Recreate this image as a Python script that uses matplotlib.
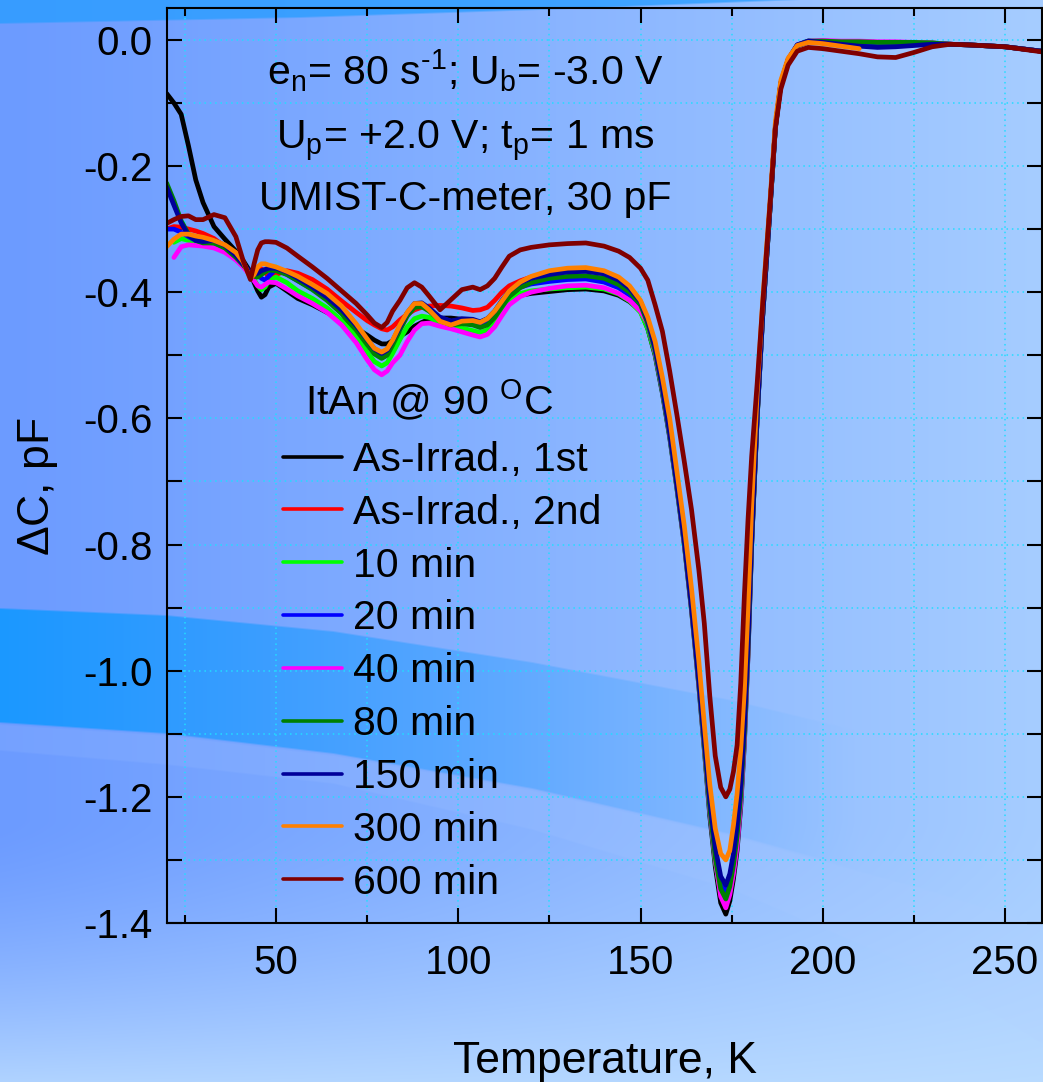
import numpy as np
import matplotlib
matplotlib.use("Agg")
import matplotlib.pyplot as plt
from matplotlib.ticker import MultipleLocator, FormatStrFormatter

plt.rcParams['font.family'] = ['Liberation Sans', 'DejaVu Sans']
plt.rcParams['mathtext.fontset'] = 'custom'
plt.rcParams['mathtext.rm'] = 'Liberation Sans'
plt.rcParams['mathtext.it'] = 'Liberation Sans'
plt.rcParams['mathtext.default'] = 'regular'
plt.rcParams['axes.unicode_minus'] = False

nan = np.nan

# temperature grids (K)
T_low = [20, 22, 24, 26, 28, 30, 33, 36, 39, 41, 43, 44, 45, 46, 47, 48, 50, 53, 56, 60,
         64, 68, 72, 75, 77, 79, 80.5, 82, 84, 86, 88, 90, 92, 95, 98, 101, 104, 106, 108, 110,
         112, 114, 117, 120, 125, 130, 135, 140, 144, 147, 150]
T_dip = [152, 154, 156, 158, 160, 162, 164, 166, 167.5, 169, 170.5, 172, 173.4, 174.5, 175.5,
         176.5, 177.5, 178.5, 179.5, 180.5, 182, 183.5, 185.5, 187, 188.5, 190.5, 193, 196,
         200, 205, 210, 215, 220, 225, 230, 235, 240, 250, 260]

# delta C (pF), one list per anneal step
irr1_low = [-0.085, -0.100, -0.118, -0.168, -0.222, -0.258, -0.296, -0.316, -0.335, -0.350, -0.368,
            -0.385, -0.398, -0.408, -0.404, -0.392, -0.386, -0.398, -0.410, -0.420, -0.432,
            -0.445, -0.457, -0.468, -0.476, -0.482, -0.482, -0.477, -0.470, -0.463, -0.454,
            -0.448, -0.443, -0.441, -0.441, -0.443, -0.446, -0.448, -0.442, -0.432, -0.420,
            -0.410, -0.405, -0.402, -0.399, -0.396, -0.395, -0.398, -0.405, -0.415, -0.430]
irr1_dip = [-0.458, -0.500, -0.560, -0.630, -0.712, -0.800, -0.905, -1.025, -1.125, -1.230, -1.310,
            -1.368, -1.386, -1.365, -1.330, -1.285, -1.215, -1.115, -0.975, -0.800, -0.600,
            -0.440, -0.270, -0.140, -0.070, -0.033, -0.010, -0.003, -0.002, -0.003, -0.004,
            -0.004, -0.004, -0.004, -0.005, -0.007, -0.008, -0.011, -0.018]

irr2_low = [-0.300, -0.296, -0.297, -0.300, -0.303, -0.307, -0.315, -0.328, -0.345, -0.358, -0.372,
            -0.375, -0.368, -0.363, -0.368, -0.376, -0.372, -0.366, -0.370, -0.380, -0.395,
            -0.414, -0.432, -0.445, -0.452, -0.458, -0.460, -0.455, -0.444, -0.435, -0.428,
            -0.424, -0.422, -0.421, -0.422, -0.425, -0.429, -0.428, -0.424, -0.413, -0.400,
            -0.390, -0.382, -0.376]

m10_low = [nan, -0.321, -0.315, -0.318, -0.322, -0.325, -0.328, -0.333, -0.345, -0.357, -0.370,
           -0.380, -0.390, -0.396, -0.392, -0.382, -0.376, -0.385, -0.398, -0.410, -0.425,
           -0.445, -0.470, -0.495, -0.510, -0.517, -0.512, -0.497, -0.475, -0.455, -0.442,
           -0.438, -0.440, -0.449, -0.455, -0.457, -0.461, -0.464, -0.460, -0.448, -0.430,
           -0.413, -0.402, -0.398, -0.395, -0.393, -0.392, -0.395, -0.403, -0.414, -0.432]
m10_dip = [-0.458, -0.498, -0.557, -0.627, -0.710, -0.798, -0.903, -1.022, -1.120, -1.222, -1.302,
           -1.354, -1.370, -1.350, -1.316, -1.272, -1.204, -1.106, -0.970, -0.798, -0.599,
           -0.439, -0.269, -0.139, -0.069, -0.032, -0.009, -0.002, -0.002, -0.003, -0.003,
           -0.004, -0.004, -0.004, -0.005, -0.007, -0.008, -0.011, -0.018]

m20_low = [-0.300, -0.300, -0.305, -0.312, -0.318, -0.320, -0.322, -0.330, -0.345, -0.357, -0.370,
           -0.372, -0.372, -0.378, -0.381, -0.375, -0.363, -0.372, -0.382, -0.395, -0.410,
           -0.430, -0.455, -0.477, -0.492, -0.500, -0.494, -0.478, -0.455, -0.433, -0.420,
           -0.420, -0.428, -0.440, -0.446, -0.444, -0.447, -0.452, -0.448, -0.437, -0.420,
           -0.404, -0.392, -0.387, -0.383, -0.380, -0.379, -0.384, -0.393, -0.405, -0.424]
m20_dip = [-0.452, -0.494, -0.555, -0.625, -0.708, -0.796, -0.900, -1.018, -1.115, -1.213, -1.290,
           -1.338, -1.352, -1.333, -1.300, -1.255, -1.190, -1.093, -0.962, -0.795, -0.597,
           -0.438, -0.268, -0.138, -0.068, -0.031, -0.008, -0.002, -0.003, -0.005, -0.007,
           -0.009, -0.008, -0.006, -0.006, -0.007, -0.008, -0.011, -0.018]

m40_low = [nan, -0.345, -0.328, -0.325, -0.326, -0.327, -0.330, -0.337, -0.349, -0.360, -0.374,
           -0.382, -0.390, -0.392, -0.388, -0.384, -0.385, -0.395, -0.406, -0.418, -0.432,
           -0.452, -0.480, -0.507, -0.523, -0.531, -0.525, -0.512, -0.500, -0.478, -0.460,
           -0.450, -0.449, -0.454, -0.458, -0.463, -0.468, -0.471, -0.467, -0.455, -0.437,
           -0.420, -0.407, -0.400, -0.394, -0.390, -0.389, -0.393, -0.402, -0.413, -0.430]
m40_dip = [-0.450, -0.495, -0.555, -0.625, -0.708, -0.797, -0.902, -1.022, -1.120, -1.222, -1.300,
           -1.358, -1.376, -1.355, -1.322, -1.278, -1.208, -1.110, -0.972, -0.798, -0.598,
           -0.439, -0.269, -0.139, -0.069, -0.032, -0.009, -0.002, -0.001, -0.002, -0.002,
           -0.003, -0.003, -0.004, -0.005, -0.007, -0.008, -0.011, -0.018]

m80_low = [-0.227, -0.255, -0.287, -0.308, -0.318, -0.322, -0.322, -0.330, -0.345, -0.357, -0.370,
           -0.375, -0.376, -0.372, -0.368, -0.365, -0.366, -0.372, -0.382, -0.396, -0.413,
           -0.434, -0.460, -0.483, -0.498, -0.505, -0.500, -0.484, -0.460, -0.438, -0.424,
           -0.423, -0.430, -0.445, -0.452, -0.450, -0.452, -0.456, -0.452, -0.440, -0.423,
           -0.407, -0.393, -0.385, -0.378, -0.375, -0.374, -0.378, -0.388, -0.400, -0.420]
m80_dip = [-0.450, -0.493, -0.554, -0.624, -0.707, -0.795, -0.900, -1.019, -1.117, -1.217, -1.296,
           -1.346, -1.362, -1.342, -1.308, -1.263, -1.197, -1.100, -0.966, -0.797, -0.598,
           -0.439, -0.269, -0.139, -0.069, -0.032, -0.009, -0.002, -0.002, -0.003, -0.003,
           -0.004, -0.004, -0.004, -0.005, -0.007, -0.008, -0.011, -0.018]

m150_low = [-0.233, -0.262, -0.290, -0.310, -0.318, -0.320, -0.318, -0.326, -0.342, -0.356, -0.368,
            -0.372, -0.370, -0.366, -0.364, -0.362, -0.362, -0.368, -0.378, -0.392, -0.408,
            -0.428, -0.453, -0.475, -0.490, -0.497, -0.492, -0.477, -0.455, -0.433, -0.418,
            -0.417, -0.425, -0.440, -0.446, -0.442, -0.443, -0.447, -0.442, -0.430, -0.413,
            -0.398, -0.385, -0.378, -0.372, -0.368, -0.367, -0.371, -0.381, -0.394, -0.415]
m150_dip = [-0.445, -0.488, -0.550, -0.622, -0.705, -0.793, -0.898, -1.015, -1.110, -1.205, -1.280,
            -1.326, -1.340, -1.322, -1.290, -1.245, -1.180, -1.085, -0.955, -0.790, -0.595,
            -0.437, -0.268, -0.138, -0.068, -0.031, -0.008, -0.002, -0.004, -0.007, -0.010,
            -0.012, -0.011, -0.009, -0.007, -0.007, -0.008, -0.011, -0.018]

m300_low = [-0.328, -0.316, -0.308, -0.308, -0.311, -0.313, -0.318, -0.325, -0.337, -0.352, -0.378,
            -0.372, -0.360, -0.355, -0.355, -0.357, -0.360, -0.367, -0.375, -0.388, -0.402,
            -0.422, -0.450, -0.474, -0.489, -0.495, -0.490, -0.476, -0.452, -0.432, -0.418,
            -0.418, -0.428, -0.446, -0.452, -0.446, -0.445, -0.448, -0.442, -0.430, -0.414,
            -0.398, -0.384, -0.375, -0.366, -0.362, -0.361, -0.366, -0.376, -0.390, -0.413]
m300_dip = [-0.440, -0.478, -0.535, -0.600, -0.685, -0.770, -0.870, -0.985, -1.085, -1.180, -1.250,
            -1.290, -1.300, -1.285, -1.245, -1.195, -1.125, -1.030, -0.900, -0.740, -0.560,
            -0.415, -0.258, -0.130, -0.064, -0.029, -0.009, -0.004, -0.006, -0.010, -0.014]

m600_low = [-0.291, -0.285, -0.280, -0.279, -0.285, -0.285, -0.277, -0.282, -0.312, -0.350, -0.380,
            -0.355, -0.333, -0.322, -0.320, -0.320, -0.321, -0.330, -0.343, -0.360, -0.378,
            -0.398, -0.418, -0.436, -0.449, -0.456, -0.448, -0.430, -0.413, -0.393, -0.385,
            -0.392, -0.406, -0.428, -0.412, -0.396, -0.392, -0.396, -0.390, -0.378, -0.360,
            -0.343, -0.333, -0.329, -0.325, -0.323, -0.322, -0.327, -0.335, -0.345, -0.362]
m600_dip = [-0.381, -0.420, -0.462, -0.525, -0.595, -0.668, -0.745, -0.840, -0.925, -1.040, -1.135,
            -1.185, -1.200, -1.188, -1.160, -1.118, -1.020, -0.880, -0.760, -0.660, -0.545,
            -0.420, -0.262, -0.140, -0.078, -0.040, -0.018, -0.012, -0.014, -0.018, -0.022,
            -0.027, -0.028, -0.020, -0.011, -0.007, -0.008, -0.011, -0.019]

labels = ["As-Irrad., 1st", "As-Irrad., 2nd", "10 min", "20 min", "40 min",
          "80 min", "150 min", "300 min", "600 min"]
colors = ["#000000", "#ff0000", "#00ff00", "#0000ff", "#ff00ff",
          "#008000", "#000099", "#ff8000", "#800000"]
series = [irr1_low + irr1_dip, irr2_low, m10_low + m10_dip, m20_low + m20_dip,
          m40_low + m40_dip, m80_low + m80_dip, m150_low + m150_dip,
          m300_low + m300_dip, m600_low + m600_dip]

W, H = 1043, 1082
fig = plt.figure(figsize=(W / 100, H / 100), dpi=100)

# ---- background (slide style gradient + swooshes)
yy, xx = np.mgrid[0:H, 0:W].astype(float)
t = (xx / W)[..., None] ** 1.1
img = np.array([0x6c, 0x9b, 0xff]) / 255 * (1 - t) + np.array([0xa6, 0xcd, 0xff]) / 255 * t
s = (np.clip((yy - 820) / 262, 0, 1) ** 1.5 * 0.85)[..., None]
img = img * (1 - s) + np.array([0xbc, 0xdd, 0xff]) / 255 * s

xc = [0, 166, 333, 532, 732, 931, 1043]
top_e = np.interp(xx, xc, [607, 614, 630, 661, 699, 747, 782])
bot_e = np.interp(xx, xc, [723, 734, 754, 789, 835, 890, 925])
low_e = np.interp(xx, xc, [751, 765, 784, 830, 890, 975, 1045])
a = np.clip(1 - xx / 860, 0, 1) ** 1.1 * 0.88
a = a * np.clip((yy - top_e) / 2, 0, 1) * np.clip((bot_e - yy) / 2, 0, 1)
img = img * (1 - a[..., None]) + np.array([0x10, 0x98, 0xff]) / 255 * a[..., None]
a = 0.13 * np.clip((yy - bot_e) / 2, 0, 1) * np.clip((low_e - yy) / 2, 0, 1)
img = img * (1 - a[..., None]) + np.array([0xb0, 0xcc, 0xff]) / 255 * a[..., None]
top_b = np.interp(xx, [0, 300, 600, 800], [24, 18, 8, 0])
a = 0.8 * np.clip((top_b - yy) / 2, 0, 1)
img = img * (1 - a[..., None]) + np.array([0x2a, 0x9d, 0xff]) / 255 * a[..., None]

bg = fig.add_axes([0, 0, 1, 1], zorder=0)
bg.imshow(img, aspect='auto', interpolation='bilinear')
bg.axis('off')

# ---- main plot
ax = fig.add_axes([166.6 / W, 1 - 923 / H, (1041.5 - 166.6) / W, (923 - 8.3) / H], zorder=1)
ax.patch.set_alpha(0)

for lab, col, vals in zip(labels, colors, series):
    ax.plot((T_low + T_dip)[:len(vals)], vals, color=col, lw=3.4, label=lab,
            solid_joinstyle='round', solid_capstyle='round')

ax.set_xlim(20, 260)
ax.set_ylim(-1.4, 0.05)
ax.xaxis.set_major_locator(MultipleLocator(50))
ax.xaxis.set_minor_locator(MultipleLocator(25))
ax.yaxis.set_major_locator(MultipleLocator(0.2))
ax.yaxis.set_minor_locator(MultipleLocator(0.1))
ax.yaxis.set_major_formatter(FormatStrFormatter('%.1f'))
ax.grid(which='both', color='#22ddff', linestyle=(0, (1, 2.5)), linewidth=1.1)
ax.set_axisbelow(True)
ax.tick_params(which='both', direction='in', top=True, right=True, width=1.5, labelsize=29)
ax.tick_params(which='major', length=11)
ax.tick_params(axis='y', which='minor', length=11)
ax.tick_params(axis='x', which='minor', length=6)
ax.tick_params(axis='x', pad=15)
ax.tick_params(axis='y', pad=10)
for sp in ax.spines.values():
    sp.set_linewidth(1.5)

leg = ax.legend(loc='upper left', bbox_to_anchor=(283 / W, 1 - 441 / H), bbox_transform=fig.transFigure,
                frameon=False, fontsize=29.5, handlelength=1.45, handletextpad=0.27,
                labelspacing=0.362, borderpad=0, borderaxespad=0)
for ln in leg.get_lines():
    ln.set_linewidth(2.6)

fig.text(305 / W, 1 - 415 / H, "ItAn @ 90 $^{O}$C", fontsize=29.5, va='baseline')

fig.text(465 / W, 1 - 85 / H, "e$_{n}$= 80 s$^{\u2010 1}$; U$_{b}$= -3.0 V", fontsize=29.5,
         ha='center', va='baseline')
fig.text(465 / W, 1 - 148 / H, "U$_{p}$= +2.0 V; t$_{p}$= 1 ms", fontsize=29.5,
         ha='center', va='baseline')
fig.text(465 / W, 1 - 210 / H, "UMIST-C-meter, 30 pF", fontsize=29.5,
         ha='center', va='baseline')

fig.text(605 / W, 1 - 1073 / H, "Temperature, K", fontsize=32, ha='center', va='baseline')
fig.text(38 / W, 1 - 487 / H, "$\\Delta$C, pF", fontsize=32, rotation=90, ha='center', va='center')

fig.savefig("out.png", dpi=100)
